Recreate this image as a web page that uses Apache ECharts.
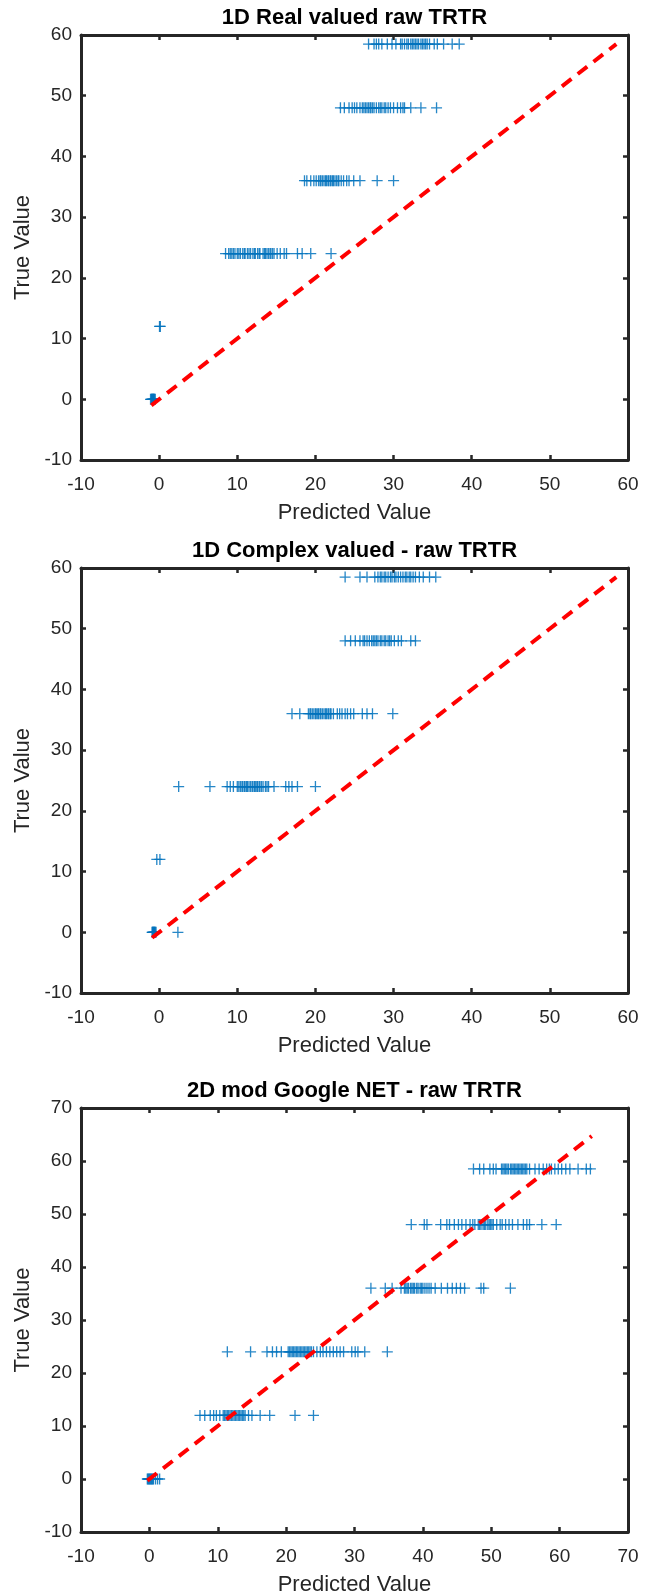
<!DOCTYPE html>
<html>
<head>
<meta charset="utf-8">
<script src="https://cdn.jsdelivr.net/npm/echarts@6/dist/echarts.min.js"></script>
<style>
  html, body { margin: 0; padding: 0; background: #fff; }
  #chart { width: 651px; height: 1591px; }
</style>
</head>
<body>
<div id="chart"></div>
<script>
// panel titles and axis ranges
const titles = ['1D Real valued raw TRTR', '1D Complex valued - raw TRTR', '2D mod Google NET - raw TRTR'];
const xMin = [-10, -10, -10];
const xMax = [60, 60, 70];
const yMin = [-10, -10, -10];
const yMax = [60, 60, 70];
const tickStep = 10;

// true value levels (rows)
const trueLevels = [0, 12, 24, 36, 48, 58.5];

// 1D real valued: predicted values for each true level
const realPred0 = [-1.1, -1.0, -0.95, -0.9, -0.85, -0.8, -0.75, -0.7, -0.65, -0.6, -0.5];
const realPred12 = [0.05, 0.15];
const realPred24 = [8.5, 8.9, 9.1, 9.3, 9.5, 9.7, 10.0, 10.2, 10.4, 10.7, 10.9, 11.0, 11.3, 11.5, 11.7, 12.0, 12.2, 12.3, 12.6, 12.8, 12.9, 13.3, 13.5, 13.6, 13.8, 14.0, 14.2, 14.3, 14.5, 14.7, 15.1, 15.5, 16.0, 16.3, 17.7, 18.3, 19.4, 22.0];
const realPred36 = [18.6, 18.9, 19.4, 19.8, 20.1, 20.4, 20.6, 20.7, 20.9, 21.1, 21.3, 21.4, 21.6, 21.7, 21.9, 22.0, 22.2, 22.3, 22.5, 22.7, 22.9, 23.0, 23.3, 23.6, 24.0, 24.3, 24.9, 25.7, 27.9, 30.0];
const realPred48 = [23.2, 23.7, 24.3, 24.7, 25.0, 25.3, 25.7, 26.0, 26.2, 26.4, 26.6, 26.8, 27.0, 27.1, 27.3, 27.5, 27.8, 28.1, 28.3, 28.5, 28.8, 29.0, 29.3, 29.6, 30.0, 30.5, 30.9, 31.2, 31.4, 32.2, 33.5, 35.5];
const realPred58 = [26.8, 27.5, 27.8, 28.1, 28.5, 29.2, 29.8, 30.3, 30.9, 31.1, 31.4, 31.7, 31.9, 32.2, 32.4, 32.6, 32.8, 33.0, 33.2, 33.5, 33.7, 33.9, 34.1, 34.3, 34.6, 35.2, 35.6, 36.4, 37.5, 38.4];
const realDiag = [-1.0, 58.5];

// 1D complex valued
const complexPred0 = [-0.9, -0.85, -0.8, -0.75, -0.7, -0.65, -0.6, -0.55, -0.5, -0.4, 2.4];
const complexPred12 = [-0.3, 0.1];
const complexPred24 = [2.5, 6.5, 8.7, 9.1, 9.5, 10.0, 10.2, 10.4, 10.6, 10.7, 10.9, 11.0, 11.2, 11.3, 11.5, 11.7, 11.9, 12.0, 12.2, 12.3, 12.5, 12.6, 12.8, 12.9, 13.1, 13.3, 13.6, 13.8, 14.0, 14.7, 16.2, 16.6, 17.0, 17.7, 20.0];
const complexPred36 = [17.0, 18.0, 19.1, 19.3, 19.4, 19.6, 19.8, 20.0, 20.1, 20.3, 20.4, 20.6, 20.7, 20.9, 21.1, 21.3, 21.4, 21.6, 21.7, 21.9, 22.0, 22.3, 22.8, 23.1, 23.4, 23.8, 24.1, 24.5, 24.9, 26.0, 26.6, 27.3, 29.9];
const complexPred48 = [23.8, 24.5, 25.1, 25.7, 26.1, 26.3, 26.6, 26.9, 27.2, 27.4, 27.6, 27.8, 28.0, 28.3, 28.5, 28.8, 29.0, 29.3, 29.5, 29.7, 30.1, 30.6, 31.0, 32.2, 32.8];
const complexPred58 = [23.8, 25.7, 26.6, 27.6, 28.0, 28.3, 28.5, 28.8, 29.0, 29.3, 29.6, 29.8, 30.1, 30.3, 30.6, 30.9, 31.2, 31.5, 31.7, 32.0, 32.2, 32.5, 32.8, 33.3, 33.8, 34.6, 35.4];
const complexDiag = [-0.9, 58.5];

// 2D mod Google NET
const googlePred0 = [-0.3, -0.2, -0.1, 0.0, 0.1, 0.2, 0.3, 0.4, 0.5, 0.6, 0.9, 1.2, 1.5];
const googlePred12 = [7.4, 8.1, 8.9, 9.4, 9.8, 10.3, 10.8, 11.0, 11.2, 11.4, 11.6, 11.8, 12.0, 12.2, 12.4, 12.6, 12.8, 13.0, 13.2, 13.4, 13.6, 13.8, 14.0, 14.5, 15.0, 16.2, 17.6, 21.3, 24.0];
const googlePred24 = [11.4, 14.8, 17.2, 18.0, 18.6, 19.3, 20.3, 20.5, 20.7, 20.9, 21.1, 21.3, 21.5, 21.7, 21.9, 22.1, 22.3, 22.5, 22.7, 22.9, 23.1, 23.3, 23.5, 23.7, 24.0, 24.5, 25.0, 25.4, 25.9, 26.4, 26.9, 27.4, 27.9, 28.4, 29.6, 30.1, 30.5, 31.5, 34.8];
const googlePred36 = [32.4, 34.5, 35.5, 36.8, 37.3, 37.5, 37.7, 37.9, 38.2, 38.4, 38.6, 38.8, 39.1, 39.3, 39.6, 39.8, 40.0, 40.3, 40.6, 40.9, 41.2, 41.8, 42.7, 43.6, 44.3, 44.9, 45.5, 46.1, 48.5, 48.9, 52.8];
const googlePred48 = [38.3, 40.2, 40.6, 42.6, 43.5, 43.9, 44.6, 45.2, 45.7, 46.3, 46.9, 47.3, 47.6, 48.1, 48.3, 48.5, 48.8, 49.0, 49.2, 49.5, 49.7, 49.9, 50.1, 50.3, 50.8, 51.3, 51.6, 52.1, 52.6, 53.1, 53.9, 54.7, 55.2, 55.6, 57.4, 59.5];
const googlePred58 = [47.4, 48.3, 48.9, 49.8, 50.3, 50.7, 51.5, 51.7, 51.9, 52.1, 52.3, 52.5, 52.8, 53.0, 53.2, 53.4, 53.6, 53.8, 54.0, 54.2, 54.4, 54.6, 54.8, 55.0, 55.2, 55.6, 56.4, 57.0, 57.6, 58.1, 58.5, 58.8, 59.3, 59.8, 60.3, 60.9, 61.5, 62.7, 63.9, 64.5];
const googleDiag = [-0.3, 64.7];

const panels = [
  { rows: [realPred0, realPred12, realPred24, realPred36, realPred48, realPred58], diag: realDiag },
  { rows: [complexPred0, complexPred12, complexPred24, complexPred36, complexPred48, complexPred58], diag: complexDiag },
  { rows: [googlePred0, googlePred12, googlePred24, googlePred36, googlePred48, googlePred58], diag: googleDiag }
];

const fontFamily = '"Liberation Sans", Arial, sans-serif';
const axisColor = '#262626';
const plusPath = 'path://M0,4.4H10V5.6H0Z M4.4,0H5.6V10H4.4Z';

const gridTops = [35, 568, 1108];
const gridHeights = [425, 425, 424];

const toPoints = (rows) => {
  const pts = [];
  rows.forEach((row, i) => {
    row.forEach((x) => pts.push([x, trueLevels[i]]));
  });
  return pts;
};

const lineStyle = { color: axisColor, width: 3 };
const tickStyle = { inside: true, length: 5, lineStyle: { color: axisColor, width: 2.5 } };

const grid = [];
const xAxis = [];
const yAxis = [];
const series = [];

panels.forEach((p, i) => {
  // keep the plot box fixed, the last axis name may run off the bottom like the original
  grid.push({ left: 81, width: 547, top: gridTops[i], height: gridHeights[i], outerBoundsMode: 'none', containLabel: false });

  const xBase = {
    gridIndex: i, type: 'value', min: xMin[i], max: xMax[i], interval: tickStep,
    axisLine: { show: true, onZero: false, lineStyle: lineStyle },
    axisTick: tickStyle,
    splitLine: { show: false }
  };
  xAxis.push(Object.assign({}, xBase, {
    position: 'bottom',
    axisLabel: { margin: 15, fontSize: 19, color: axisColor, fontFamily: fontFamily },
    name: 'Predicted Value', nameLocation: 'middle', nameGap: 42,
    nameTextStyle: { fontSize: 22, color: axisColor, fontFamily: fontFamily }
  }));
  xAxis.push(Object.assign({}, xBase, {
    position: 'top',
    axisLabel: { show: false },
    name: titles[i], nameLocation: 'middle', nameGap: 6,
    nameTextStyle: { fontSize: 22, fontWeight: 'bold', color: '#000', fontFamily: fontFamily }
  }));

  const yBase = {
    gridIndex: i, type: 'value', min: yMin[i], max: yMax[i], interval: tickStep,
    axisLine: { show: true, onZero: false, lineStyle: lineStyle },
    axisTick: tickStyle,
    splitLine: { show: false }
  };
  yAxis.push(Object.assign({}, yBase, {
    position: 'left',
    axisLabel: { margin: 9, fontSize: 19, color: axisColor, fontFamily: fontFamily },
    name: 'True Value', nameLocation: 'middle', nameGap: 41,
    nameTextStyle: { fontSize: 22, color: axisColor, fontFamily: fontFamily }
  }));
  yAxis.push(Object.assign({}, yBase, {
    position: 'right',
    axisLabel: { show: false }
  }));

  series.push({
    type: 'scatter',
    xAxisIndex: i * 2, yAxisIndex: i * 2,
    symbol: plusPath, symbolSize: 11,
    itemStyle: { color: '#0072BD', opacity: 0.85 },
    data: toPoints(p.rows),
    silent: true
  });
  series.push({
    type: 'line',
    xAxisIndex: i * 2, yAxisIndex: i * 2,
    showSymbol: false, symbol: 'none',
    lineStyle: { color: '#FF0000', width: 4, type: [12, 8] },
    data: [[p.diag[0], p.diag[0]], [p.diag[1], p.diag[1]]],
    silent: true
  });
});

const chart = echarts.init(document.getElementById('chart'), null, { renderer: 'canvas' });
chart.setOption({
  animation: false,
  backgroundColor: '#fff',
  textStyle: { fontFamily: fontFamily },
  grid: grid,
  xAxis: xAxis,
  yAxis: yAxis,
  series: series
});
</script>
</body>
</html>
